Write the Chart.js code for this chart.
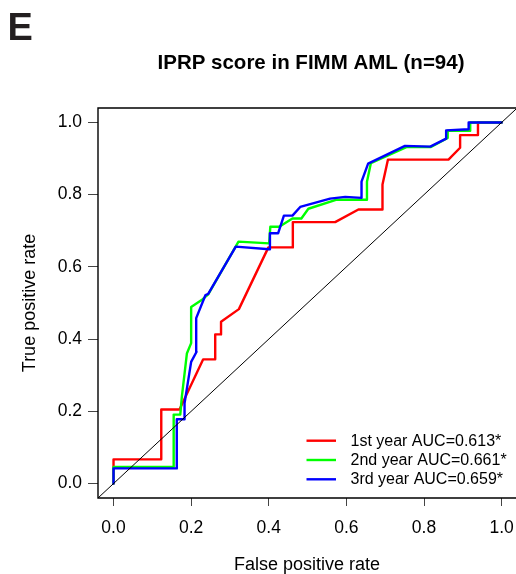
<!DOCTYPE html>
<html><head><meta charset="utf-8">
<script src="https://cdn.jsdelivr.net/npm/chart.js@4/dist/chart.umd.min.js"></script>
<style>html,body{margin:0;padding:0;background:#fff;overflow:hidden}canvas{display:block}</style>
</head><body>
<canvas id="c" width="516" height="574"></canvas>
<script>
// ---- data ----
const panelLabel = 'E';
const chartTitle = 'IPRP score in FIMM AML (n=94)';
const xTitle = 'False positive rate';
const yTitle = 'True positive rate';
const tickValues = [0, 0.2, 0.4, 0.6, 0.8, 1.0];
const tickLabels = ['0.0', '0.2', '0.4', '0.6', '0.8', '1.0'];
const seriesNames = ['1st year AUC=0.613*', '2nd year AUC=0.661*', '3rd year AUC=0.659*'];
const seriesColors = ['#ff0000', '#00ff00', '#0000ff'];

const fpr1 = [0, 0, 0.123, 0.123, 0.17, 0.231, 0.262, 0.262, 0.277, 0.277, 0.323, 0.399, 0.462, 0.462, 0.571, 0.631, 0.693, 0.693, 0.707, 0.863, 0.893, 0.893, 0.939, 0.939, 1.0];
const tpr1 = [0, 0.067, 0.067, 0.205, 0.205, 0.344, 0.344, 0.413, 0.413, 0.448, 0.483, 0.654, 0.654, 0.724, 0.724, 0.759, 0.759, 0.828, 0.897, 0.897, 0.93, 0.965, 0.965, 1.0, 1.0];

const fpr2 = [0, 0, 0.155, 0.155, 0.172, 0.176, 0.189, 0.2, 0.2, 0.229, 0.244, 0.322, 0.401, 0.404, 0.427, 0.461, 0.484, 0.502, 0.575, 0.653, 0.653, 0.663, 0.756, 0.818, 0.861, 0.861, 0.919, 0.919, 1.0];
const tpr2 = [0, 0.046, 0.046, 0.191, 0.191, 0.24, 0.36, 0.389, 0.489, 0.51, 0.524, 0.67, 0.665, 0.711, 0.711, 0.734, 0.734, 0.761, 0.786, 0.786, 0.836, 0.887, 0.932, 0.932, 0.957, 0.977, 0.977, 1.0, 1.0];

const fpr3 = [0, 0, 0.163, 0.163, 0.183, 0.183, 0.2, 0.214, 0.213, 0.237, 0.244, 0.315, 0.401, 0.403, 0.424, 0.439, 0.461, 0.481, 0.558, 0.597, 0.639, 0.639, 0.656, 0.751, 0.816, 0.857, 0.857, 0.915, 0.915, 1.0];
const tpr3 = [0, 0.042, 0.042, 0.178, 0.178, 0.222, 0.337, 0.365, 0.458, 0.522, 0.525, 0.656, 0.649, 0.693, 0.693, 0.742, 0.742, 0.766, 0.789, 0.794, 0.791, 0.836, 0.886, 0.935, 0.933, 0.955, 0.978, 0.981, 1.0, 1.0];

const diagX = [-0.1, 1.1];
const diagY = [-0.1, 1.1];

// ---- build ----
const FONT = "'Liberation Sans', Arial, Helvetica, sans-serif";
const pts = (xs, ys) => xs.map((x, i) => ({x: x, y: ys[i]}));
const curves = [[fpr1, tpr1], [fpr2, tpr2], [fpr3, tpr3]];

const datasets = curves.map((c, i) => ({
  label: seriesNames[i],
  data: pts(c[0], c[1]),
  borderColor: seriesColors[i],
  backgroundColor: seriesColors[i],
  borderWidth: 2.4,
  showLine: true,
  pointRadius: 0,
  tension: 0,
  borderJoinStyle: 'round',
  borderCapStyle: 'round',
  order: 3 - i
}));
datasets.push({
  label: 'diag',
  data: pts(diagX, diagY),
  borderColor: '#000',
  borderWidth: 1,
  showLine: true,
  pointRadius: 0,
  order: 0
});

const decor = {
  id: 'decor',
  afterDraw(chart) {
    const ctx = chart.ctx, a = chart.chartArea;
    ctx.save();
    // box
    ctx.strokeStyle = '#000';
    ctx.lineWidth = 1.4;
    ctx.beginPath();
    ctx.moveTo(a.right + 2, a.top);
    ctx.lineTo(a.left, a.top);
    ctx.lineTo(a.left, a.bottom);
    ctx.lineTo(a.right + 2, a.bottom);
    ctx.stroke();
    // panel label
    ctx.fillStyle = '#231f20';
    ctx.font = 'bold 38px ' + FONT;
    ctx.textAlign = 'left';
    ctx.textBaseline = 'alphabetic';
    ctx.fillText(panelLabel, 7.5, 39.5);
    // title
    ctx.fillStyle = '#000';
    ctx.font = 'bold 20.5px ' + FONT;
    ctx.textAlign = 'center';
    ctx.fillText(chartTitle, 311, 69);
    // legend
    ctx.font = '16px ' + FONT;
    ctx.textAlign = 'left';
    ctx.textBaseline = 'middle';
    const rows = [440.7, 460, 479.3];
    seriesNames.forEach((n, i) => {
      ctx.strokeStyle = seriesColors[i];
      ctx.lineWidth = 2.4;
      ctx.beginPath();
      ctx.moveTo(306.5, rows[i]);
      ctx.lineTo(336, rows[i]);
      ctx.stroke();
      ctx.fillStyle = '#000';
      ctx.fillText(n, 350.5, rows[i] + 0.5);
    });
    ctx.restore();
  }
};

new Chart(document.getElementById('c'), {
  type: 'scatter',
  data: {datasets: datasets},
  options: {
    responsive: false,
    animation: false,
    layout: {autoPadding: false, padding: {top: 108, left: 0, right: 0, bottom: 0}},
    plugins: {legend: {display: false}, tooltip: {enabled: false}, title: {display: false}},
    scales: {
      x: {
        type: 'linear', min: -0.04, max: 1.037,
        afterBuildTicks: s => { s.ticks = tickValues.map(v => ({value: v})); },
        afterFit: s => { s.height = 76; s.paddingLeft = 0; s.paddingRight = 0; },
        border: {display: false},
        grid: {drawOnChartArea: false, drawTicks: true, tickLength: 8, color: '#444', lineWidth: 1},
        ticks: {
          padding: 12,
          color: '#000',
          font: {family: FONT, size: 17.5, lineHeight: 1.2},
          maxRotation: 0, autoSkip: false,
          callback: (v) => { const i = tickValues.indexOf(v); return i >= 0 ? tickLabels[i] : ''; }
        },
        title: {display: true, text: xTitle, color: '#000', font: {family: FONT, size: 18, lineHeight: 1}, padding: {top: 0, bottom: 0}}
      },
      y: {
        type: 'linear', min: -0.04, max: 1.04,
        afterBuildTicks: s => { s.ticks = tickValues.map(v => ({value: v})); },
        afterFit: s => { s.width = 98; s.paddingTop = 0; s.paddingBottom = 0; },
        border: {display: false},
        grid: {drawOnChartArea: false, drawTicks: true, tickLength: 10, color: '#444', lineWidth: 1},
        ticks: {
          padding: 6,
          color: '#000',
          font: {family: FONT, size: 17.5, lineHeight: 1.2},
          autoSkip: false,
          callback: (v) => { const i = tickValues.indexOf(v); return i >= 0 ? tickLabels[i] : ''; }
        },
        title: {display: true, text: yTitle, color: '#000', font: {family: FONT, size: 18, lineHeight: 1}, padding: {top: 21, bottom: 0}}
      }
    }
  },
  plugins: [decor]
});
</script>
</body></html>
